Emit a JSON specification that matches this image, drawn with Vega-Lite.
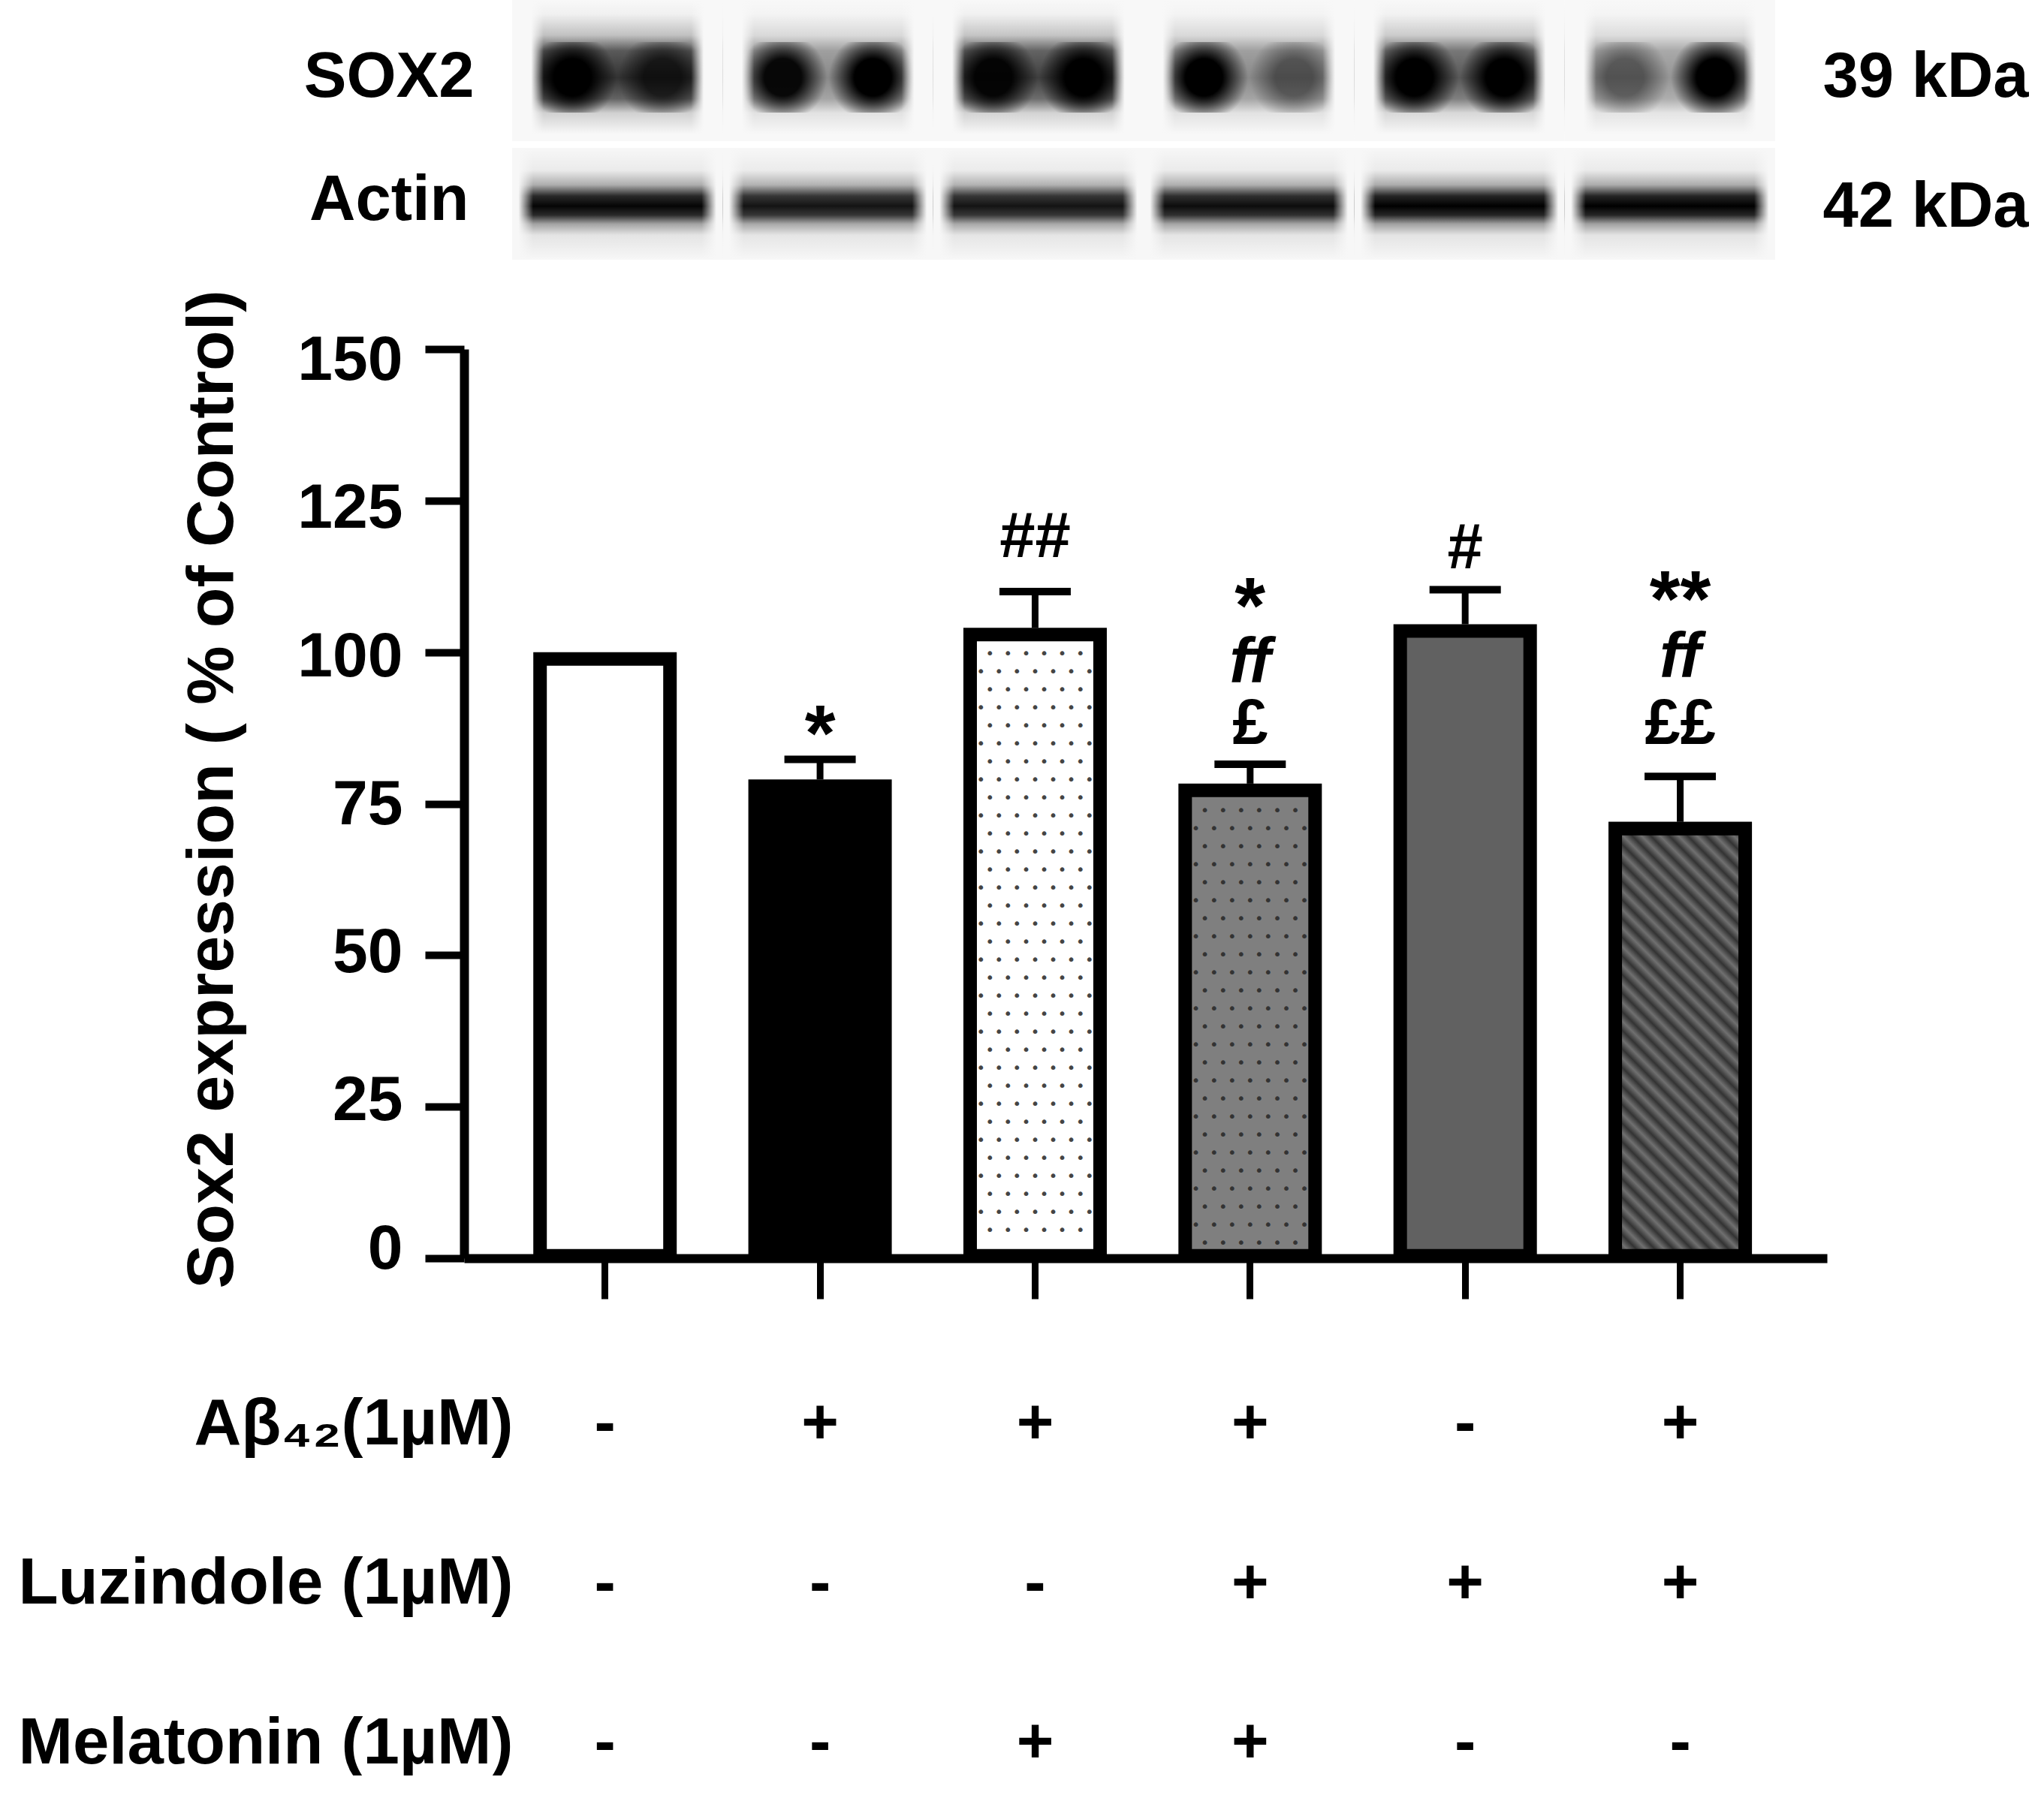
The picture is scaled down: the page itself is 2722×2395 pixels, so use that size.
{
  "$schema": "https://vega.github.io/schema/vega-lite/v6.json",
  "background": "white",
  "padding": {"left": 23, "top": 0, "right": 0, "bottom": 0},
  "spacing": 9,
  "bounds": "flush",
  "config": {
    "view": {"stroke": null},
    "font": "Liberation Sans",
    "axis": {"labelLimit": 1200},
    "tick": {"opacity": 1},
    "text": {"font": "Liberation Sans", "fontWeight": "bold", "fontSize": 85, "color": "black"}
  },
  "datasets": {
    "bars": [
      {"group": "Control", "mean": 100},
      {"group": "Aβ42", "mean": 79, "err": 82.3},
      {"group": "Aβ42+Mel", "mean": 104, "err": 110},
      {"group": "Aβ42+Luz+Mel", "mean": 78.3, "err": 81.5},
      {"group": "Luz", "mean": 104.6, "err": 110.3},
      {"group": "Aβ42+Luz", "mean": 72, "err": 79.5}
    ],
    "marks": [
      {"group": "Aβ42", "label": "*", "level": 82.1},
      {"group": "Aβ42+Mel", "label": "##", "level": 115.7},
      {"group": "Aβ42+Luz+Mel", "label": "*", "level": 103.2},
      {"group": "Aβ42+Luz+Mel", "label": "ff", "level": 95},
      {"group": "Aβ42+Luz+Mel", "label": "£", "level": 84.9},
      {"group": "Luz", "label": "#", "level": 113.8},
      {"group": "Aβ42+Luz", "label": "**", "level": 104.3},
      {"group": "Aβ42+Luz", "label": "ff", "level": 95.9},
      {"group": "Aβ42+Luz", "label": "££", "level": 84.9}
    ],
    "treatments": [
      {"group": "Control", "drug": "Aβ₄₂(1µM)", "sign": "-"},
      {"group": "Aβ42", "drug": "Aβ₄₂(1µM)", "sign": "+"},
      {"group": "Aβ42+Mel", "drug": "Aβ₄₂(1µM)", "sign": "+"},
      {"group": "Aβ42+Luz+Mel", "drug": "Aβ₄₂(1µM)", "sign": "+"},
      {"group": "Luz", "drug": "Aβ₄₂(1µM)", "sign": "-"},
      {"group": "Aβ42+Luz", "drug": "Aβ₄₂(1µM)", "sign": "+"},
      {"group": "Control", "drug": "Luzindole (1µM)", "sign": "-"},
      {"group": "Aβ42", "drug": "Luzindole (1µM)", "sign": "-"},
      {"group": "Aβ42+Mel", "drug": "Luzindole (1µM)", "sign": "-"},
      {"group": "Aβ42+Luz+Mel", "drug": "Luzindole (1µM)", "sign": "+"},
      {"group": "Luz", "drug": "Luzindole (1µM)", "sign": "+"},
      {"group": "Aβ42+Luz", "drug": "Luzindole (1µM)", "sign": "+"},
      {"group": "Control", "drug": "Melatonin (1µM)", "sign": "-"},
      {"group": "Aβ42", "drug": "Melatonin (1µM)", "sign": "-"},
      {"group": "Aβ42+Mel", "drug": "Melatonin (1µM)", "sign": "+"},
      {"group": "Aβ42+Luz+Mel", "drug": "Melatonin (1µM)", "sign": "+"},
      {"group": "Luz", "drug": "Melatonin (1µM)", "sign": "-"},
      {"group": "Aβ42+Luz", "drug": "Melatonin (1µM)", "sign": "-"}
    ],
    "sox2": [
      {"lane": 1, "protein": "SOX2", "size": "39 kDa", "band": 0.8},
      {"lane": 2, "protein": "SOX2", "size": "39 kDa", "band": 0.45},
      {"lane": 3, "protein": "SOX2", "size": "39 kDa", "band": 0.75},
      {"lane": 4, "protein": "SOX2", "size": "39 kDa", "band": 0.45},
      {"lane": 5, "protein": "SOX2", "size": "39 kDa", "band": 0.65},
      {"lane": 6, "protein": "SOX2", "size": "39 kDa", "band": 0.4}
    ],
    "sox2sides": [
      {"lane": 1, "protein": "SOX2", "side": "L", "density": 1},
      {"lane": 1, "protein": "SOX2", "side": "R", "density": 0.7},
      {"lane": 2, "protein": "SOX2", "side": "L", "density": 0.95},
      {"lane": 2, "protein": "SOX2", "side": "R", "density": 1},
      {"lane": 3, "protein": "SOX2", "side": "L", "density": 0.95},
      {"lane": 3, "protein": "SOX2", "side": "R", "density": 1},
      {"lane": 4, "protein": "SOX2", "side": "L", "density": 1},
      {"lane": 4, "protein": "SOX2", "side": "R", "density": 0.45},
      {"lane": 5, "protein": "SOX2", "side": "L", "density": 1},
      {"lane": 5, "protein": "SOX2", "side": "R", "density": 1},
      {"lane": 6, "protein": "SOX2", "side": "L", "density": 0.45},
      {"lane": 6, "protein": "SOX2", "side": "R", "density": 1}
    ],
    "actin": [
      {"lane": 1, "protein": "Actin", "size": "42 kDa", "band": 0.98},
      {"lane": 2, "protein": "Actin", "size": "42 kDa", "band": 0.92},
      {"lane": 3, "protein": "Actin", "size": "42 kDa", "band": 0.92},
      {"lane": 4, "protein": "Actin", "size": "42 kDa", "band": 0.95},
      {"lane": 5, "protein": "Actin", "size": "42 kDa", "band": 1},
      {"lane": 6, "protein": "Actin", "size": "42 kDa", "band": 1}
    ]
  },
  "vconcat": [
    {
      "width": 1815,
      "height": 188,
      "data": {"name": "sox2"},
      "resolve": {"scale": {"y": "independent"}},
      "layer": [
        {
          "mark": {"type": "rect", "fill": "#f8f8f8"},
          "encoding": {
            "x": {"field": "lane", "type": "nominal", "axis": null, "scale": {"type": "band", "paddingInner": 0, "paddingOuter": 0, "range": [64, 1746]}},
            "y": {"field": "protein", "type": "nominal", "title": null, "axis": {"orient": "left", "ticks": false, "domain": false, "labelFontSize": 85, "labelFontWeight": "bold", "labelColor": "black", "labelPadding": -13, "labelOffset": 9, "labelAngle": 0}}
          }
        },
        {
          "mark": {"type": "rect", "fill": "#000", "opacity": 0},
          "encoding": {
            "x": {"field": "lane", "type": "nominal"},
            "y": {"field": "size", "type": "nominal", "title": null, "axis": {"orient": "right", "ticks": false, "domain": false, "labelFontSize": 85, "labelFontWeight": "bold", "labelColor": "black", "labelPadding": -6, "labelOffset": 9, "labelAngle": 0}}
          }
        },
        {
          "mark": {"type": "rect", "fill": {"gradient": "linear", "x1": 0, "y1": 0, "x2": 0, "y2": 1, "stops": [{"offset": 0, "color": "rgba(0,0,0,0)"}, {"offset": 0.1, "color": "rgba(0,0,0,0.04)"}, {"offset": 0.25, "color": "rgba(0,0,0,0.28)"}, {"offset": 0.36, "color": "rgba(0,0,0,0.8)"}, {"offset": 0.55, "color": "rgba(0,0,0,1)"}, {"offset": 0.7, "color": "rgba(0,0,0,0.75)"}, {"offset": 0.8, "color": "rgba(0,0,0,0.2)"}, {"offset": 0.95, "color": "rgba(0,0,0,0)"}]}},
          "encoding": {
            "x": {"field": "lane", "type": "nominal"},
            "y": {"field": "protein", "type": "nominal", "axis": null},
            "opacity": {"field": "band", "type": "quantitative", "scale": null}
          }
        },
        {
          "data": {"name": "sox2sides"},
          "mark": {"type": "rect", "height": {"band": 0.5}, "yOffset": 9, "fill": {"gradient": "radial", "x1": 0.5, "y1": 0.5, "r1": 0, "x2": 0.5, "y2": 0.5, "r2": 0.5, "stops": [{"offset": 0, "color": "rgba(0,0,0,1)"}, {"offset": 0.42, "color": "rgba(0,0,0,1)"}, {"offset": 1, "color": "rgba(0,0,0,0)"}]}},
          "encoding": {
            "x": {"field": "lane", "type": "nominal"},
            "xOffset": {"field": "side", "type": "nominal", "scale": {"paddingInner": 0.02, "paddingOuter": 0.18}},
            "y": {"field": "protein", "type": "nominal", "axis": null},
            "opacity": {"field": "density", "type": "quantitative", "scale": null}
          }
        },
        {
          "mark": {"type": "rect", "fill": {"gradient": "linear", "x1": 0, "y1": 0, "x2": 1, "y2": 0, "stops": [{"offset": 0, "color": "rgba(248,248,248,1)"}, {"offset": 0.09, "color": "rgba(248,248,248,1)"}, {"offset": 0.15, "color": "rgba(248,248,248,0)"}, {"offset": 0.85, "color": "rgba(248,248,248,0)"}, {"offset": 0.91, "color": "rgba(248,248,248,1)"}, {"offset": 1, "color": "rgba(248,248,248,1)"}]}},
          "encoding": {
            "x": {"field": "lane", "type": "nominal"},
            "y": {"field": "protein", "type": "nominal", "axis": null}
          }
        }
      ]
    },
    {
      "width": 1815,
      "height": 149,
      "data": {"name": "actin"},
      "resolve": {"scale": {"y": "independent"}},
      "layer": [
        {
          "mark": {"type": "rect", "fill": "#f7f7f7"},
          "encoding": {
            "x": {"field": "lane", "type": "nominal", "axis": null, "scale": {"type": "band", "paddingInner": 0, "paddingOuter": 0, "range": [64, 1746]}},
            "y": {"field": "protein", "type": "nominal", "title": null, "axis": {"orient": "left", "ticks": false, "domain": false, "labelFontSize": 85, "labelFontWeight": "bold", "labelColor": "black", "labelPadding": -6, "labelOffset": -5, "labelAngle": 0}}
          }
        },
        {
          "mark": {"type": "rect", "fill": "#000", "opacity": 0},
          "encoding": {
            "x": {"field": "lane", "type": "nominal"},
            "y": {"field": "size", "type": "nominal", "title": null, "axis": {"orient": "right", "ticks": false, "domain": false, "labelFontSize": 85, "labelFontWeight": "bold", "labelColor": "black", "labelPadding": -6, "labelOffset": 4, "labelAngle": 0}}
          }
        },
        {
          "mark": {"type": "rect", "fill": {"gradient": "linear", "x1": 0, "y1": 0, "x2": 0, "y2": 1, "stops": [{"offset": 0, "color": "rgba(0,0,0,0)"}, {"offset": 0.2, "color": "rgba(0,0,0,0.05)"}, {"offset": 0.33, "color": "rgba(0,0,0,0.3)"}, {"offset": 0.43, "color": "rgba(0,0,0,0.85)"}, {"offset": 0.52, "color": "rgba(0,0,0,1)"}, {"offset": 0.6, "color": "rgba(0,0,0,0.85)"}, {"offset": 0.68, "color": "rgba(0,0,0,0.35)"}, {"offset": 0.78, "color": "rgba(0,0,0,0.08)"}, {"offset": 1, "color": "rgba(0,0,0,0)"}]}},
          "encoding": {
            "x": {"field": "lane", "type": "nominal"},
            "y": {"field": "protein", "type": "nominal", "axis": null},
            "opacity": {"field": "band", "type": "quantitative", "scale": null}
          }
        },
        {
          "mark": {"type": "rect", "fill": {"gradient": "linear", "x1": 0, "y1": 0, "x2": 1, "y2": 0, "stops": [{"offset": 0, "color": "rgba(247,247,247,1)"}, {"offset": 0.03, "color": "rgba(247,247,247,1)"}, {"offset": 0.1, "color": "rgba(247,247,247,0)"}, {"offset": 0.9, "color": "rgba(247,247,247,0)"}, {"offset": 0.97, "color": "rgba(247,247,247,1)"}, {"offset": 1, "color": "rgba(247,247,247,1)"}]}},
          "encoding": {
            "x": {"field": "lane", "type": "nominal"},
            "y": {"field": "protein", "type": "nominal", "axis": null}
          }
        }
      ]
    },
    {
      "width": 1815,
      "height": 1321,
      "data": {"name": "bars"},
      "encoding": {
        "x": {
          "field": "group",
          "type": "nominal",
          "title": null,
          "scale": {"type": "band", "domain": ["Control", "Aβ42", "Aβ42+Mel", "Aβ42+Luz+Mel", "Luz", "Aβ42+Luz"], "paddingInner": 0, "paddingOuter": 0.169, "align": 0.46},
          "axis": {"labels": false, "domainWidth": 12, "domainColor": "black", "tickColor": "black", "tickWidth": 9, "tickSize": 54, "title": null}
        }
      },
      "layer": [
        {
          "mark": {"type": "bar", "size": 173, "stroke": "black", "strokeWidth": 18, "yOffset": 9},
          "encoding": {
            "y": {
              "field": "mean",
              "type": "quantitative",
              "title": "Sox2 expression ( % of Control)",
              "scale": {"domain": [0, 150], "nice": false, "range": [1321, 110]},
              "axis": {"values": [0, 25, 50, 75, 100, 125, 150], "grid": false, "domainWidth": 12, "domainColor": "black", "tickColor": "black", "tickWidth": 10, "tickSize": 52, "labelFontSize": 84, "labelFontWeight": "bold", "labelColor": "black", "labelPadding": 30, "labelOffset": {"expr": "-12 + datum.value * 0.185"}, "titleFontSize": 88, "titleFontWeight": "bold", "titleColor": "black", "titleX": -335, "titleY": 696, "titleAlign": "center", "titleBaseline": "middle"}
            },
            "y2": {"datum": 0.4},
            "color": {"field": "group", "type": "nominal", "legend": null, "scale": {"domain": ["Control", "Aβ42", "Aβ42+Mel", "Aβ42+Luz+Mel", "Luz", "Aβ42+Luz"], "range": ["#ffffff", "#000000", "#ffffff", "#7f7f7f", "#616161", "#6a6a6a"]}}
          }
        },
        {
          "transform": [{"filter": "datum.group == 'Aβ42+Luz'"}],
          "mark": {
            "type": "bar", "size": 173, "stroke": "black", "strokeWidth": 18, "yOffset": 9,
            "fill": {"gradient": "linear", "x1": 0, "y1": 1, "x2": 0.3655, "y2": -0.194, "stops": [
              {"offset": 0, "color": "#707070"}, {"offset": 0.0167, "color": "#333333"}, {"offset": 0.0333, "color": "#707070"}, {"offset": 0.05, "color": "#333333"},
              {"offset": 0.0667, "color": "#707070"}, {"offset": 0.0833, "color": "#333333"}, {"offset": 0.1, "color": "#707070"}, {"offset": 0.1167, "color": "#333333"},
              {"offset": 0.1333, "color": "#707070"}, {"offset": 0.15, "color": "#333333"}, {"offset": 0.1667, "color": "#707070"}, {"offset": 0.1833, "color": "#333333"},
              {"offset": 0.2, "color": "#707070"}, {"offset": 0.2167, "color": "#333333"}, {"offset": 0.2333, "color": "#707070"}, {"offset": 0.25, "color": "#333333"},
              {"offset": 0.2667, "color": "#707070"}, {"offset": 0.2833, "color": "#333333"}, {"offset": 0.3, "color": "#707070"}, {"offset": 0.3167, "color": "#333333"},
              {"offset": 0.3333, "color": "#707070"}, {"offset": 0.35, "color": "#333333"}, {"offset": 0.3667, "color": "#707070"}, {"offset": 0.3833, "color": "#333333"},
              {"offset": 0.4, "color": "#707070"}, {"offset": 0.4167, "color": "#333333"}, {"offset": 0.4333, "color": "#707070"}, {"offset": 0.45, "color": "#333333"},
              {"offset": 0.4667, "color": "#707070"}, {"offset": 0.4833, "color": "#333333"}, {"offset": 0.5, "color": "#707070"}, {"offset": 0.5167, "color": "#333333"},
              {"offset": 0.5333, "color": "#707070"}, {"offset": 0.55, "color": "#333333"}, {"offset": 0.5667, "color": "#707070"}, {"offset": 0.5833, "color": "#333333"},
              {"offset": 0.6, "color": "#707070"}, {"offset": 0.6167, "color": "#333333"}, {"offset": 0.6333, "color": "#707070"}, {"offset": 0.65, "color": "#333333"},
              {"offset": 0.6667, "color": "#707070"}, {"offset": 0.6833, "color": "#333333"}, {"offset": 0.7, "color": "#707070"}, {"offset": 0.7167, "color": "#333333"},
              {"offset": 0.7333, "color": "#707070"}, {"offset": 0.75, "color": "#333333"}, {"offset": 0.7667, "color": "#707070"}, {"offset": 0.7833, "color": "#333333"},
              {"offset": 0.8, "color": "#707070"}, {"offset": 0.8167, "color": "#333333"}, {"offset": 0.8333, "color": "#707070"}, {"offset": 0.85, "color": "#333333"},
              {"offset": 0.8667, "color": "#707070"}, {"offset": 0.8833, "color": "#333333"}, {"offset": 0.9, "color": "#707070"}, {"offset": 0.9167, "color": "#333333"},
              {"offset": 0.9333, "color": "#707070"}, {"offset": 0.95, "color": "#333333"}, {"offset": 0.9667, "color": "#707070"}, {"offset": 0.9833, "color": "#333333"},
              {"offset": 1, "color": "#707070"}
            ]}
          },
          "encoding": {"y": {"field": "mean", "type": "quantitative"}, "y2": {"datum": 0.4}}
        },
        {
          "transform": [{"filter": "datum.group == 'Aβ42+Mel'"}],
          "mark": {
            "type": "text", "font": "DejaVu Sans Mono", "fontSize": 20, "fontWeight": "normal", "color": "#444444", "baseline": "top", "align": "center", "lineHeight": 24, "dy": 25,
            "text": ["• • • • • •", "• • • • • • •", "• • • • • •", "• • • • • • •", "• • • • • •", "• • • • • • •", "• • • • • •", "• • • • • • •", "• • • • • •", "• • • • • • •", "• • • • • •", "• • • • • • •", "• • • • • •", "• • • • • • •", "• • • • • •", "• • • • • • •", "• • • • • •", "• • • • • • •", "• • • • • •", "• • • • • • •", "• • • • • •", "• • • • • • •", "• • • • • •", "• • • • • • •", "• • • • • •", "• • • • • • •", "• • • • • •", "• • • • • • •", "• • • • • •", "• • • • • • •", "• • • • • •", "• • • • • • •", "• • • • • •"]
          },
          "encoding": {"y": {"field": "mean", "type": "quantitative"}}
        },
        {
          "transform": [{"filter": "datum.group == 'Aβ42+Luz+Mel'"}],
          "mark": {
            "type": "text", "font": "DejaVu Sans Mono", "fontSize": 20, "fontWeight": "normal", "color": "#333333", "baseline": "top", "align": "center", "lineHeight": 24, "dy": 26,
            "text": ["• • • • • •", "• • • • • • •", "• • • • • •", "• • • • • • •", "• • • • • •", "• • • • • • •", "• • • • • •", "• • • • • • •", "• • • • • •", "• • • • • • •", "• • • • • •", "• • • • • • •", "• • • • • •", "• • • • • • •", "• • • • • •", "• • • • • • •", "• • • • • •", "• • • • • • •", "• • • • • •", "• • • • • • •", "• • • • • •", "• • • • • • •", "• • • • • •", "• • • • • • •", "• • • • • •"]
          },
          "encoding": {"y": {"field": "mean", "type": "quantitative"}}
        },
        {
          "transform": [{"filter": "isValid(datum.err)"}],
          "mark": {"type": "rule", "color": "black", "strokeWidth": 9},
          "encoding": {
            "y": {"field": "mean", "type": "quantitative"},
            "y2": {"field": "err"}
          }
        },
        {
          "transform": [{"filter": "isValid(datum.err)"}],
          "mark": {"type": "tick", "color": "black", "size": 95, "thickness": 10, "orient": "horizontal", "opacity": 1},
          "encoding": {"y": {"field": "err", "type": "quantitative"}}
        },
        {
          "data": {"name": "marks"},
          "transform": [{"filter": "datum.label != 'ff'"}],
          "mark": {"type": "text", "baseline": "alphabetic"},
          "encoding": {
            "y": {"field": "level", "type": "quantitative"},
            "text": {"field": "label", "type": "nominal"},
            "size": {"condition": {"test": "indexof(datum.label, '*') >= 0", "value": 105}, "value": 85}
          }
        },
        {
          "data": {"name": "marks"},
          "transform": [{"filter": "datum.label == 'ff'"}],
          "mark": {"type": "text", "fontSize": 85, "fontStyle": "italic", "baseline": "alphabetic"},
          "encoding": {
            "y": {"field": "level", "type": "quantitative"},
            "text": {"field": "label", "type": "nominal"}
          }
        }
      ]
    },
    {
      "width": 1815,
      "height": 637,
      "data": {"name": "treatments"},
      "mark": {"type": "text", "fontSize": 85, "baseline": "middle"},
      "encoding": {
        "x": {
          "field": "group",
          "type": "nominal",
          "axis": null,
          "scale": {"type": "band", "domain": ["Control", "Aβ42", "Aβ42+Mel", "Aβ42+Luz+Mel", "Luz", "Aβ42+Luz"], "paddingInner": 0, "paddingOuter": 0.169, "align": 0.46}
        },
        "y": {
          "field": "drug",
          "type": "nominal",
          "title": null,
          "sort": null,
          "scale": {"type": "point", "padding": 0, "domain": ["Aβ₄₂(1µM)", "Luzindole (1µM)", "Melatonin (1µM)"], "range": [212, 637]},
          "axis": {"ticks": false, "domain": false, "labelFontSize": 87, "labelFontWeight": "bold", "labelColor": "black", "labelPadding": -65, "labelAngle": 0}
        },
        "text": {"field": "sign", "type": "nominal"}
      }
    }
  ]
}
